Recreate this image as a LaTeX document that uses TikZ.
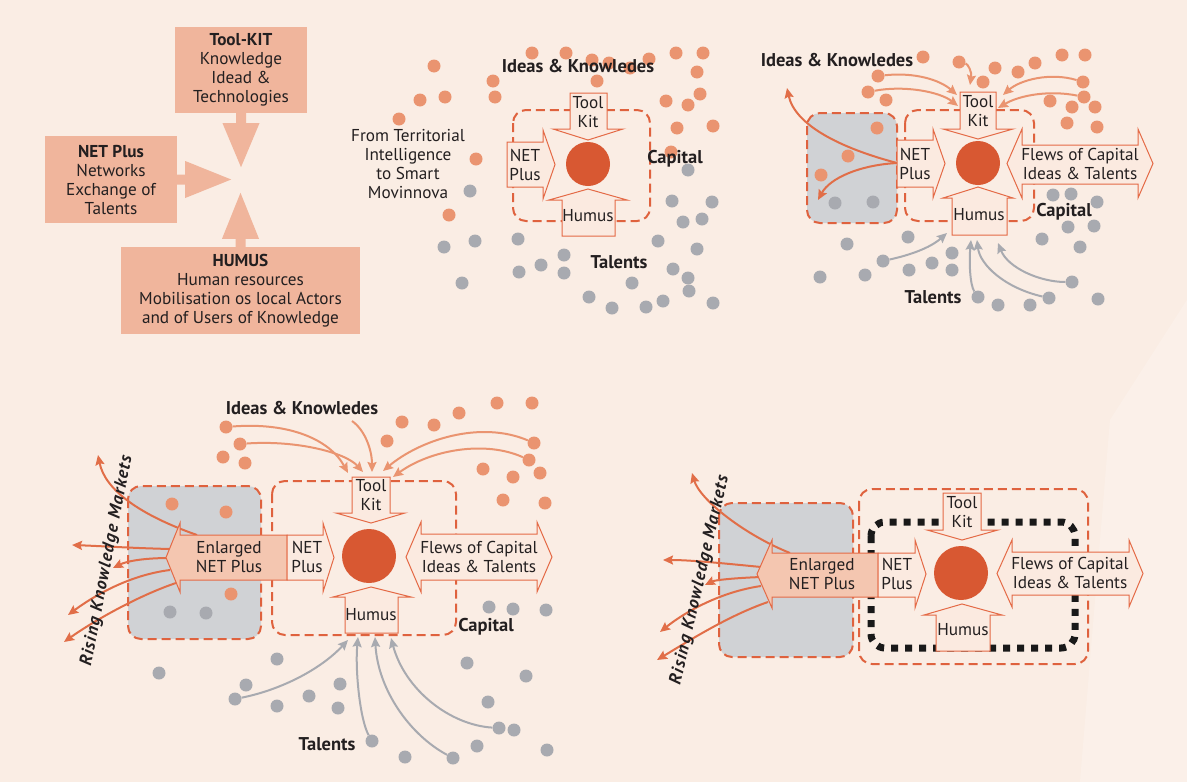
\documentclass[tikz,border=0pt]{standalone}
\usepackage{fontspec}
\setmainfont{PT Sans}
\usetikzlibrary{arrows.meta}

\definecolor{bgpeach}{RGB}{250,237,228}
\definecolor{boxsalmon}{RGB}{240,181,156}
\definecolor{dotorange}{RGB}{234,148,112}
\definecolor{dotgray}{RGB}{168,170,176}
\definecolor{hubred}{RGB}{216,88,50}
\definecolor{dashred}{RGB}{223,98,62}
\definecolor{arrowline}{RGB}{228,106,70}
\definecolor{arrowfill}{RGB}{251,234,224}
\definecolor{enlfill}{RGB}{244,198,176}
\definecolor{zonegray}{RGB}{208,210,213}
\definecolor{flowout}{RGB}{225,110,72}
\definecolor{textdark}{RGB}{35,31,32}

\begin{document}
\begin{tikzpicture}[x=1pt,y=1pt,yscale=-1,xscale=1,
    every node/.style={text=textdark,font=\fontsize{17.2}{19}\selectfont},
    salmonbox/.style={fill=boxsalmon,inner sep=0pt,align=center},
    blockarrow/.style={draw=arrowline,fill=arrowfill,line width=1pt,line join=miter},
    enlarged/.style={draw=arrowline,fill=enlfill,line width=1pt,line join=miter},
    zone/.style={draw=dashred,line width=2pt,dash pattern=on 9pt off 5pt,rounded corners=13pt},
    grayzone/.style={zone,fill=zonegray},
    blackzone/.style={draw=black!90,line width=7pt,dash pattern=on 7pt off 7pt,rounded corners=14pt},
    hub/.style={fill=hubred},
    odot/.style={circle,fill=dotorange,inner sep=0pt,minimum size=13pt},
    gdot/.style={circle,fill=dotgray,inner sep=0pt,minimum size=13pt},
    oflow/.style={draw=dotorange,line width=2pt,-{Stealth[length=10pt,width=9pt,inset=1.5pt]}},
    rflow/.style={draw=flowout,line width=2pt,-{Stealth[length=10pt,width=9pt,inset=1.5pt]}},
    gflow/.style={draw=dotgray,line width=2pt,-{Stealth[length=10pt,width=9pt,inset=1.5pt]}},
    atext/.style={inner sep=0pt,align=center},
    lbl/.style={inner sep=0pt,font=\fontsize{18.5}{20}\selectfont\bfseries},
    rising/.style={inner sep=0pt,font=\fontsize{17.5}{20}\selectfont\bfseries\itshape\addfontfeatures{LetterSpace=7}}]

                %Shape: Background
                \fill[bgpeach] (0,0) rectangle (1187,782);
                \fill[white,opacity=0.22] (1110,420) -- (1187,300) -- (1187,782) -- (1080,782) -- cycle;
                \useasboundingbox (0,0) rectangle (1187,782);

                % ---------- panel 1 ----------
                % Text Node
                \node[salmonbox,minimum width=132,minimum height=86] (toolkit) at (241,70) {\textbf{Tool-KIT}\\Knowledge\\Idead \&\\Technologies};
                % Text Node
                \node[salmonbox,minimum width=132,minimum height=87] (netplus) at (111,179.5) {\textbf{NET Plus}\\Networks\\Exchange of\\Talents};
                % Text Node
                \node[salmonbox,minimum width=239,minimum height=87] (humus) at (240.5,290.5) {\textbf{HUMUS}\\Human resources\\Mobilisation os local Actors\\and of Users of Knowledge};
                %Shape: Arrows
                \fill[boxsalmon] (toolkit.south) ++(-5,0) -- ++(0,10) -- ++(-13.5,0) -- ++(18.5,44) -- ++(18.5,-44) -- ++(-13.5,0) -- ++(0,-10) -- cycle;
                \fill[boxsalmon] (netplus.east) ++(0,-5) -- ++(8,0) -- ++(0,-13.5) -- ++(46,18.5) -- ++(-46,18.5) -- ++(0,-13.5) -- ++(-8,0) -- cycle;
                \fill[boxsalmon] (humus.north) ++(-5,0) -- ++(0,-8) -- ++(-13.5,0) -- ++(18.5,-46) -- ++(18.5,46) -- ++(-13.5,0) -- ++(0,8) -- cycle;

                % ---------- zones ----------
                \draw[zone] (513,110) rectangle (650,221);
                \draw[grayzone] (807,113) rectangle (897,223);
                \draw[zone] (905,110) rectangle (1034,221);
                \draw[grayzone] (128,486) rectangle (261,639);
                \draw[zone] (272,481) rectangle (456,635);
                \draw[grayzone] (719,503) rectangle (853,657);
                \draw[zone] (859,489) rectangle (1088,664);
                \draw[blackzone] (871,522) rectangle (1075,648);

                % ---------- dots ----------
                \foreach \p in {(434,66),(420,100),(445,97),(399,119),(493,81),(495,97),(532,53),(566,53),(592,60),(609,63),(630,68),(649,59),(597,81),(676,53),(703,53),(697,72),(700,94),(688,105),(666,101),(677,128),(713,126),(671,152),(476,159),(449,215),
                    (923,57),(886,100),(995,68),(983,82),(1018,72),(1035,63),(1062,55),(1085,55),(1050,101),(1072,107),(1095,107),(1067,123),(1097,127),(877,128),(848,156),(821,175),
                    (223,457),(245,463),(387,441),(402,422),(434,425),(459,413),(497,403),(532,403),(540,473),(483,469),(513,477),(503,500),(545,503),(172,504),(226,512),(231,594)}
                    \node[odot] at \p {};
                \foreach \p in {(470,191),(444,247),(475,241),(518,239),(462,283),(519,272),(541,265),(564,255),(564,273),(589,297),(612,308),(632,283),(646,307),(658,241),(663,301),(673,269),(688,278),(689,291),(697,249),(713,303),(688,170),(672,201),(712,202),(683,222),(702,219),
                    (835,203),(873,202),(847,244),(820,277),(865,275),(908,237),(909,270),(932,263),(952,253),(952,270),(998,305),(1030,305),(1098,299),(1053,195),(1071,194),(1097,202),(1068,227),(1094,226),(1042,239),(1080,247),
                    (170,612),(206,613),(159,673),(277,659),(246,685),(277,706),(309,696),(340,684),(338,708),(405,757),(477,746),(514,730),(547,750),(488,702),(467,663),(526,676),(489,607),(513,609),(546,610)}
                    \node[gdot] at \p {};
                % named dots
                \node[odot] (o3a) at (878,76) {};
                \node[odot] (o3b) at (868,92) {};
                \node[odot] (o3c) at (959,62) {};
                \node[odot] (o3d) at (1083,82) {};
                \node[odot] (o3e) at (1084,97) {};
                \node[gdot] (g3a) at (883,261) {};
                \node[gdot] (g3b) at (978,297) {};
                \node[gdot] (g3c) at (1049,298) {};
                \node[gdot] (g3d) at (1072,282) {};
                \node[odot] (o4a) at (226,427) {};
                \node[odot] (o4b) at (240,444) {};
                \node[odot] (o4c) at (534,443) {};
                \node[odot] (o4d) at (529,460) {};
                \node[gdot] (g4a) at (235,699) {};
                \node[gdot] (g4b) at (372,741) {};
                \node[gdot] (g4c) at (453,758) {};
                \node[gdot] (g4d) at (499,728) {};

                % ---------- flow ends ----------
                \coordinate (tk3a) at (957,95);
                \coordinate (tk3b) at (958,106);
                \coordinate (tk3c) at (970,85);
                \coordinate (tk3d) at (1003,95);
                \coordinate (tk3e) at (998,108);
                \coordinate (np3w) at (897,163);
                \coordinate (out3a) at (787,88);
                \coordinate (out3b) at (818,200);
                \coordinate (hu3a) at (947,233);
                \coordinate (hu3b) at (971,240);
                \coordinate (hu3c) at (977,240);
                \coordinate (hu3d) at (998,243);
                \coordinate (ik4) at (352,421);
                \coordinate (tk4a) at (348,473);
                \coordinate (tk4b) at (363,472);
                \coordinate (tk4c) at (372,472);
                \coordinate (tk4d) at (383,471);
                \coordinate (tk4e) at (393,477);
                \coordinate (en4a) at (197,535);
                \coordinate (en4b) at (170,549);
                \coordinate (en4c) at (170,558);
                \coordinate (en4d) at (170,570);
                \coordinate (en4e) at (176,583);
                \coordinate (out4a) at (98,455);
                \coordinate (out4b) at (72,545);
                \coordinate (out4c) at (113,568);
                \coordinate (out4d) at (68,615);
                \coordinate (out4e) at (64,642);
                \coordinate (hu4a) at (348,640);
                \coordinate (hu4b) at (358,637);
                \coordinate (hu4c) at (375,637);
                \coordinate (hu4d) at (391,638);
                \coordinate (en5a) at (790,553);
                \coordinate (en5b) at (761,567);
                \coordinate (en5c) at (761,577);
                \coordinate (en5d) at (761,586);
                \coordinate (en5e) at (768,602);
                \coordinate (out5a) at (692,473);
                \coordinate (out5b) at (663,560);
                \coordinate (out5c) at (705,585);
                \coordinate (out5d) at (660,632);
                \coordinate (out5e) at (657,660);

                %Curve Lines
                \draw[oflow] (o3a) .. controls (915,72) and (940,80) .. (tk3a);
                \draw[oflow] (o3b) .. controls (905,85) and (940,92) .. (tk3b);
                \draw[oflow] (o3c) .. controls (968,64) and (972,72) .. (tk3c);
                \draw[oflow] (o3d) .. controls (1050,72) and (1020,80) .. (tk3d);
                \draw[oflow] (o3e) .. controls (1050,90) and (1020,95) .. (tk3e);
                \draw[rflow] (np3w) .. controls (840,148) and (795,125) .. (out3a);
                \draw[rflow] (np3w) .. controls (860,165) and (830,178) .. (out3b);
                \draw[gflow] (g3a) .. controls (910,255) and (930,248) .. (hu3a);
                \draw[gflow] (g3b) .. controls (970,285) and (969,262) .. (hu3b);
                \draw[gflow] (g3c) .. controls (1005,288) and (980,265) .. (hu3c);
                \draw[gflow] (g3d) .. controls (1040,282) and (1008,268) .. (hu3d);
                %Curve Lines
                \draw[oflow] (o4a) .. controls (290,422) and (330,440) .. (tk4a);
                \draw[oflow] (o4b) .. controls (295,440) and (345,452) .. (tk4b);
                \draw[oflow] (ik4) .. controls (365,430) and (372,450) .. (tk4c);
                \draw[oflow] (o4c) .. controls (480,420) and (420,440) .. (tk4d);
                \draw[oflow] (o4d) .. controls (485,440) and (430,450) .. (tk4e);
                \draw[rflow] (en4a) .. controls (140,515) and (105,490) .. (out4a);
                \draw[rflow] (en4b) .. controls (130,548) and (100,546) .. (out4b);
                \draw[rflow] (en4c) .. controls (140,558) and (125,562) .. (out4c);
                \draw[rflow] (en4d) .. controls (130,575) and (95,595) .. (out4d);
                \draw[rflow] (en4e) .. controls (140,595) and (95,620) .. (out4e);
                \draw[gflow] (g4a) .. controls (280,690) and (320,670) .. (hu4a);
                \draw[gflow] (g4b) .. controls (360,720) and (355,670) .. (hu4b);
                \draw[gflow] (g4c) .. controls (410,735) and (378,690) .. (hu4c);
                \draw[gflow] (g4d) .. controls (450,725) and (405,690) .. (hu4d);
                %Curve Lines
                \draw[rflow] (en5a) .. controls (745,535) and (700,500) .. (out5a);
                \draw[rflow] (en5b) .. controls (720,563) and (690,560) .. (out5b);
                \draw[rflow] (en5c) .. controls (735,578) and (715,580) .. (out5c);
                \draw[rflow] (en5d) .. controls (720,592) and (685,612) .. (out5d);
                \draw[rflow] (en5e) .. controls (730,615) and (690,640) .. (out5e);

                % ---------- block arrows ----------
                \draw[blockarrow] (588,140) -- (553,129) -- (570,129) -- (570,93) -- (607,93) -- (607,129) -- (623,129) -- cycle;
                \draw[blockarrow] (555,164.5) -- (543,199) -- (543,187) -- (507,187) -- (507,142) -- (543,142) -- (543,130) -- cycle;
                \draw[blockarrow] (588,189) -- (627,200) -- (615,200) -- (615,236) -- (562,236) -- (562,200) -- (549,200) -- cycle;

                \draw[blockarrow] (978,139) -- (943,129) -- (960,129) -- (960,92) -- (996,92) -- (996,129) -- (1013,129) -- cycle;
                \draw[blockarrow] (945,163.5) -- (933,198) -- (933,187) -- (897,187) -- (897,140) -- (933,140) -- (933,129) -- cycle;
                \draw[blockarrow] (978,187) -- (1013,198) -- (1007,198) -- (1007,235) -- (952,235) -- (952,198) -- (943,198) -- cycle;
                \draw[blockarrow] (1007,163.5) -- (1022,129) -- (1022,145) -- (1138,145) -- (1138,129) -- (1153,163.5) -- (1138,198) -- (1138,184) -- (1022,184) -- (1022,198) -- cycle;

                \draw[blockarrow] (371,523) -- (336,513) -- (352,513) -- (352,477) -- (390,477) -- (390,513) -- (405,513) -- cycle;
                \draw[enlarged] (166,557.5) -- (180,523) -- (180,535) -- (287,535) -- (287,580) -- (180,580) -- (180,592) -- cycle;
                \draw[blockarrow] (334,557.5) -- (323,592) -- (323,580) -- (287,580) -- (287,535) -- (323,535) -- (323,523) -- cycle;
                \draw[blockarrow] (371,587) -- (411,597) -- (398,597) -- (398,633) -- (345,633) -- (345,597) -- (333,597) -- cycle;
                \draw[blockarrow] (406,557) -- (421,522) -- (421,534) -- (537,534) -- (537,522) -- (552,557) -- (537,592) -- (537,580) -- (421,580) -- (421,592) -- cycle;

                \draw[blockarrow] (962,540) -- (927,530) -- (943,530) -- (943,493) -- (981,493) -- (981,530) -- (998,530) -- cycle;
                \draw[enlarged] (757,574) -- (772,540) -- (772,553) -- (878,553) -- (878,597) -- (772,597) -- (772,608) -- cycle;
                \draw[blockarrow] (926,574) -- (915,608) -- (915,597) -- (878,597) -- (878,553) -- (915,553) -- (915,540) -- cycle;
                \draw[blockarrow] (962,604) -- (1002,615) -- (990,615) -- (990,651) -- (936,651) -- (936,615) -- (924,615) -- cycle;
                \draw[blockarrow] (997,573.5) -- (1012,540) -- (1012,552) -- (1129,552) -- (1129,540) -- (1143,573.5) -- (1129,607) -- (1129,595) -- (1012,595) -- (1012,607) -- cycle;

                %Shape: Circle
                \fill[hub] (588,164) circle (22);
                \fill[hub] (978,163) circle (22);
                \fill[hub] (369,556) circle (27);
                \fill[hub] (961,573) circle (27);

                % ---------- texts ----------
                % Text Node
                \node[atext] (intro) at (408,164) {From Territorial\\Intelligence\\to Smart\\Movinnova};
                \node[atext] (tk2) at (588,112) {Tool\\Kit};
                \node[atext] (np2) at (525,165) {NET\\Plus};
                \node[atext] (hu2) at (588,216) {Humus};
                \node[lbl] (ik2) at (578,66) {Ideas \& Knowledes};
                \node[lbl] (cap2) at (675,159) {Capital};
                \node[lbl] (tal2) at (619,262) {Talents};
                % Text Node
                \node[atext] (tk3) at (978,111) {Tool\\Kit};
                \node[atext] (np3) at (915,164) {NET\\Plus};
                \node[atext] (hu3) at (979,215) {Humus};
                \node[atext] (fl3) at (1080,164) {Flews of Capital\\Ideas \& Talents};
                \node[lbl] (ik3) at (837,60) {Ideas \& Knowledes};
                \node[lbl] (cap3) at (1064,212) {Capital};
                \node[lbl] (tal3) at (933,297) {Talents};
                % Text Node
                \node[atext] (tk4) at (371,495) {Tool\\Kit};
                \node[atext] (np4) at (307,557) {NET\\Plus};
                \node[atext] (en4) at (229,557) {Enlarged\\NET Plus};
                \node[atext] (hu4) at (371,615) {Humus};
                \node[atext] (fl4) at (479,557) {Flews of Capital\\Ideas \& Talents};
                \node[lbl] (ik4t) at (302,408) {Ideas \& Knowledes};
                \node[lbl] (cap4) at (486,627) {Capital};
                \node[lbl] (tal4) at (327,744) {Talents};
                \node[rising,rotate=79] (rk4) at (107,561) {Rising Knowledge Markets};
                % Text Node
                \node[atext] (tk5) at (962,512) {Tool\\Kit};
                \node[atext] (np5) at (897,574) {NET\\Plus};
                \node[atext] (en5) at (822,574) {Enlarged\\NET Plus};
                \node[atext] (hu5) at (963,630) {Humus};
                \node[atext] (fl5) at (1070,573) {Flews of Capital\\Ideas \& Talents};
                \node[rising,rotate=77] (rk5) at (700,580) {Rising Knowledge Markets};
\end{tikzpicture}
\end{document}
